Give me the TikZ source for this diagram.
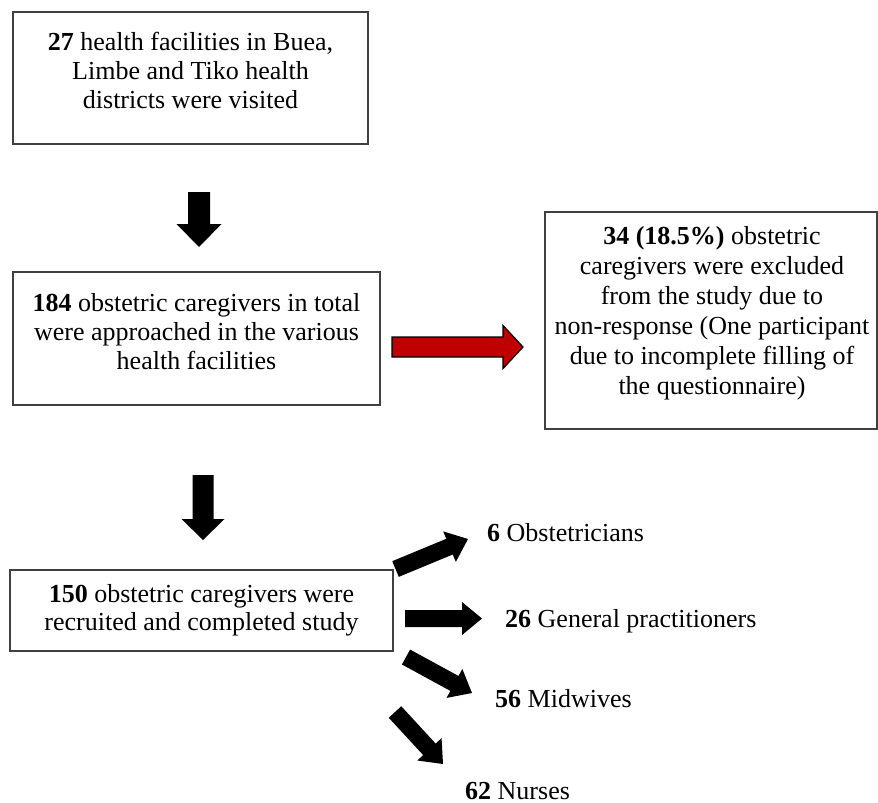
\documentclass[tikz,border=0pt]{standalone}
\usepackage{fontspec}
\setmainfont{Liberation Serif}
\usetikzlibrary{calc}
\definecolor{arrowred}{RGB}{192,0,0}
\newcommand\fsz[1]{\fontsize{26pt}{#1}\selectfont}
% [style]{from}{to}{half shaft}{half head}{head length}
\newcommand\blockarrow[6][barrow]{%
  \coordinate (ba-h) at ($(#3)!#6!(#2)$);
  \path[#1] ($(#2)!#4!90:(#3)$) -- ($(ba-h)!#4!90:(#3)$) -- ($(ba-h)!#5!90:(#3)$)
    -- (#3) -- ($(ba-h)!#5!-90:(#3)$) -- ($(ba-h)!#4!-90:(#3)$) -- ($(#2)!#4!-90:(#3)$) -- cycle;
}
\begin{document}
\begin{tikzpicture}[x=1pt,y=-1pt,
  box/.style={draw=black!75, line width=1.1pt, inner sep=0pt},
  txt/.style={align=center, inner sep=0pt},
  lbl/.style={anchor=base west, inner sep=0pt, font=\fsz{30pt}},
  barrow/.style={fill=black, draw=none},
  redarrow/.style={fill=arrowred, draw=black, line width=1.3pt, line join=miter}]
\fill[white] (0,0) rectangle (878,803);
\useasboundingbox (0,0) rectangle (878,803);

% boxes
\node[box, minimum width=355pt, minimum height=132pt] (b1) at (190.5,78) {};
\node[box, minimum width=367pt, minimum height=133pt] (b2) at (196.5,338.5) {};
\node[box, minimum width=332pt, minimum height=217pt] (b3) at (711,320.5) {};
\node[box, minimum width=383pt, minimum height=81pt] (b4) at (201.5,610.5) {};

% texts
\node[txt, font=\fsz{29pt}] (t1) at (190.5,70) {\textbf{27} health facilities in Buea,\\Limbe and Tiko health\\districts were visited};
\node[txt, font=\fsz{29pt}] (t2) at (196.5,332) {\textbf{184} obstetric caregivers in total\\were approached in the various\\health facilities};
\node[txt, font=\fsz{30pt}] (t3) at (712,313) {\textbf{34 (18.5\%)} obstetric\\caregivers were excluded\\from the study due to\\non-response (One participant\\due to incomplete filling of\\the questionnaire)};
\node[txt, font=\fsz{28pt}] (t4) at (201.5,610) {\textbf{150} obstetric caregivers were\\recruited and completed study};

% labels
\node[lbl] (l1) at (487,541) {\textbf{6} Obstetricians};
\node[lbl] (l2) at (505,627) {\textbf{26} General practitioners};
\node[lbl] (l3) at (495,707) {\textbf{56} Midwives};
\node[lbl] (l4) at (465,799) {\textbf{62} Nurses};

% arrow end points
\coordinate (a1s) at (199,192);   \coordinate (a1e) at (199,247);
\coordinate (a2s) at (203,475);   \coordinate (a2e) at (203,540);
\coordinate (ars) at (392,347);   \coordinate (are) at (523,347);
\coordinate (aAs) at (395.5,569); \coordinate (aAe) at (468,539);
\coordinate (aBs) at (405,618.5); \coordinate (aBe) at (482,618.5);
\coordinate (aCs) at (406,657);   \coordinate (aCe) at (472,693);
\coordinate (aDs) at (395,712);   \coordinate (aDe) at (443,764);

\blockarrow{a1s}{a1e}{11pt}{22.5pt}{23pt}
\blockarrow{a2s}{a2e}{10.5pt}{21.5pt}{21pt}
\blockarrow[redarrow]{ars}{are}{10pt}{21.5pt}{20pt}
\blockarrow{aAs}{aAe}{8.5pt}{16.5pt}{20pt}
\blockarrow{aBs}{aBe}{8.5pt}{16.5pt}{20pt}
\blockarrow{aCs}{aCe}{8.5pt}{16.5pt}{20pt}
\blockarrow{aDs}{aDe}{8.5pt}{16.5pt}{20pt}
\end{tikzpicture}
\end{document}
